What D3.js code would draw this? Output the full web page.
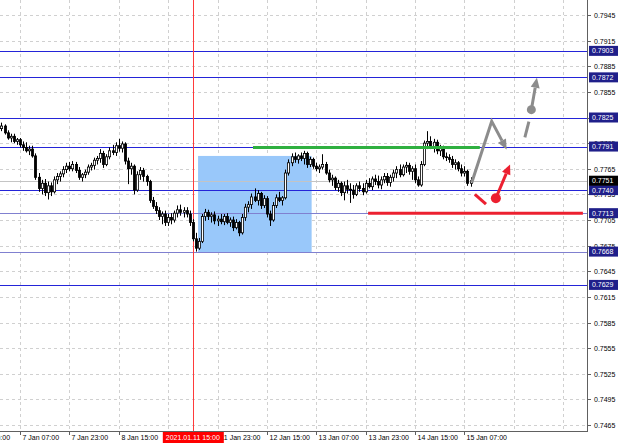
<!DOCTYPE html>
<html><head><meta charset="utf-8">
<script src="https://cdn.jsdelivr.net/npm/d3@7"></script>
<style>body{margin:0;background:#fff}svg{display:block}text{font-family:"Liberation Sans",Arial,sans-serif;font-size:7px}</style>
</head><body><svg id="c" width="620" height="448"></svg>
<script>
// EURUSD-like H1 bars, prices in pips (x 0.0001): [open, high, low, close]
const bars = [
[7808,7814,7804,7812],[7812,7819,7809,7815],[7815,7817,7805,7807],[7807,7810,7799,7801],[7801,7806,7796,7803],
[7803,7806,7795,7797],[7797,7801,7793,7799],[7799,7801,7790,7793],[7793,7797,7786,7790],[7790,7796,7784,7786],
[7786,7792,7781,7788],[7788,7792,7778,7780],[7780,7783,7752,7755],[7755,7760,7738,7742],[7742,7752,7735,7748],
[7748,7753,7733,7737],[7737,7750,7729,7745],[7745,7749,7733,7738],[7738,7756,7736,7752],[7752,7760,7747,7756],
[7756,7762,7750,7759],[7759,7768,7755,7764],[7764,7772,7760,7768],[7768,7773,7762,7765],[7765,7774,7762,7770],
[7770,7773,7760,7763],[7763,7767,7752,7755],[7755,7760,7750,7758],[7758,7764,7754,7761],[7761,7770,7758,7767],
[7767,7772,7763,7769],[7769,7778,7764,7775],[7775,7780,7770,7777],[7777,7788,7772,7783],[7783,7786,7766,7770],
[7770,7782,7768,7779],[7779,7790,7776,7786],[7786,7793,7781,7784],[7784,7796,7780,7792],[7792,7800,7785,7789],
[7789,7797,7784,7794],[7794,7796,7770,7774],[7774,7778,7747,7765],[7765,7772,7758,7768],[7768,7770,7735,7740],
[7740,7762,7738,7758],[7758,7767,7752,7763],[7763,7766,7750,7756],[7756,7758,7745,7750],[7750,7752,7725,7728],
[7728,7732,7718,7721],[7721,7726,7712,7716],[7716,7720,7705,7709],[7709,7715,7700,7712],[7712,7716,7698,7702],
[7702,7712,7698,7708],[7708,7713,7700,7705],[7705,7716,7702,7713],[7713,7722,7708,7717],[7717,7723,7710,7714],
[7714,7720,7708,7716],[7716,7720,7708,7712],[7712,7716,7698,7702],[7702,7706,7680,7683],[7683,7690,7668,7672],
[7672,7684,7670,7680],[7680,7712,7678,7709],[7709,7718,7704,7714],[7714,7717,7705,7709],[7709,7714,7702,7711],
[7711,7715,7700,7704],[7704,7710,7698,7706],[7706,7712,7700,7703],[7703,7712,7699,7709],[7709,7713,7700,7702],
[7702,7708,7697,7705],[7705,7709,7692,7696],[7696,7706,7694,7702],[7702,7704,7686,7690],[7690,7712,7688,7708],
[7708,7724,7704,7720],[7720,7727,7714,7723],[7723,7736,7718,7732],[7732,7742,7726,7728],[7728,7740,7722,7736],
[7736,7738,7718,7722],[7722,7734,7719,7730],[7730,7733,7708,7712],[7712,7716,7698,7705],[7705,7726,7703,7722],
[7722,7735,7719,7731],[7731,7738,7726,7728],[7728,7733,7722,7731],[7731,7764,7729,7760],[7760,7776,7757,7772],
[7772,7783,7768,7779],[7779,7784,7772,7776],[7776,7782,7771,7780],[7780,7784,7774,7777],[7777,7786,7770,7783],
[7783,7785,7766,7770],[7770,7779,7767,7776],[7776,7778,7765,7768],[7768,7772,7762,7765],[7765,7770,7760,7767],
[7767,7782,7764,7770],[7770,7773,7758,7760],[7760,7764,7749,7752],[7752,7758,7745,7754],[7754,7756,7740,7743],
[7743,7752,7738,7748],[7748,7750,7733,7737],[7737,7750,7728,7745],[7745,7752,7736,7741],[7741,7748,7725,7740],
[7740,7746,7730,7735],[7735,7748,7733,7745],[7745,7750,7738,7742],[7742,7748,7734,7738],[7738,7752,7736,7748],
[7748,7754,7742,7744],[7744,7756,7740,7753],[7753,7758,7746,7750],[7750,7757,7742,7746],[7746,7756,7741,7752],
[7752,7760,7748,7756],[7756,7760,7745,7749],[7749,7758,7744,7755],[7755,7764,7750,7760],[7760,7768,7754,7764],
[7764,7770,7755,7758],[7758,7770,7756,7767],[7767,7773,7760,7769],[7769,7772,7758,7762],[7762,7768,7752,7765],
[7765,7770,7748,7752],[7752,7756,7744,7746],[7746,7774,7744,7770],[7770,7798,7768,7795],[7795,7809,7788,7797],
[7797,7803,7788,7791],[7791,7800,7784,7796],[7796,7799,7782,7786],[7786,7793,7780,7790],[7790,7792,7776,7779],
[7779,7784,7774,7778],[7778,7782,7772,7776],[7776,7780,7766,7770],[7770,7776,7764,7772],[7772,7774,7762,7765],
[7765,7770,7756,7760],[7760,7768,7756,7762],[7762,7764,7745,7748],[7748,7755,7744,7751]
];
// time axis labels at bar index (7 Jan 00:00 = bar 0; weekend skipped)
const timeTicks = [
{bar:-9,label:"6 Jan 15:00"},{bar:7,label:"7 Jan 07:00"},{bar:23,label:"7 Jan 23:00"},{bar:39,label:"8 Jan 15:00"},
{bar:55,label:"11 Jan 07:00"},{bar:71,label:"11 Jan 23:00"},{bar:87,label:"12 Jan 15:00"},{bar:103,label:"13 Jan 07:00"},
{bar:119,label:"13 Jan 23:00"},{bar:135,label:"14 Jan 15:00"},{bar:151,label:"15 Jan 07:00"}
];
const futureGrid = [167,183];
const priceTicks = d3.range(0,17).map(i=>+(0.7465+i*0.003).toFixed(4));
const levels = [0.7903,0.7872,0.7825,0.7791,0.7740,0.7713,0.7668,0.7629];
const levelTone = ["dark","dark","dark","dark","dark","light","light","dark"];
const bidPrice = 0.7751;
const crossBar = 63, crossLabel = "2021.01.11 15:00";
const zoneRect = {b0:64.7,b1:101.5,p0:0.7780,p1:0.76675};
const greenLine = {b0:82.5,b1:156,p:0.7790};
const redLine = {b0:119.8,b1:189.4,p:0.7713};
const grayPath1 = [[153.4,0.77488],[159.85,0.78206],[164.7,0.77876]];
const graySeg2 = [[170.6,0.78016],[171.9,0.78202]];
const grayDot = [172.7,0.78342], grayTip = [174.5,0.78715];
const redSeg = [[154.4,0.77351],[158.0,0.77235]];
const redDot = [161.2,0.77305], redTip = [165.8,0.77701];

const svg = d3.select("#c");
const W=587, H=431;
const x = d3.scaleLinear().domain([0,153]).range([-1.6,-1.6+153*3.086]);
const y = d3.scaleLinear().domain([0.7465,0.7945]).range([425,15]);
svg.append("clipPath").attr("id","pc").append("rect").attr("x",0).attr("y",0).attr("width",W).attr("height",H);
const plot = svg.append("g").attr("clip-path","url(#pc)");
const py = v=>Math.round(y(v))+0.5;

// grid
plot.selectAll(".hg").data(priceTicks).enter().append("line")
 .attr("x1",0).attr("x2",W).attr("y1",py).attr("y2",py)
 .attr("stroke","#d0d0d0").attr("stroke-dasharray","3,3");
plot.selectAll(".vg").data(timeTicks.map(d=>d.bar).concat(futureGrid)).enter().append("line")
 .attr("y1",0).attr("y2",H).attr("x1",d=>Math.round(x(d))+0.5).attr("x2",d=>Math.round(x(d))+0.5)
 .attr("stroke","#d0d0d0").attr("stroke-dasharray","3,3");

// zone rectangle
plot.append("rect").attr("x",x(zoneRect.b0)).attr("width",x(zoneRect.b1)-x(zoneRect.b0))
 .attr("y",y(zoneRect.p0)).attr("height",y(zoneRect.p1)-y(zoneRect.p0)).attr("fill","#99c8fa");

// level lines
plot.selectAll(".lv").data(levels).enter().append("line")
 .attr("x1",0).attr("x2",W).attr("y1",py).attr("y2",py)
 .attr("stroke",(d,i)=>levelTone[i]==="dark"?"#2424d8":"#8080d0").attr("stroke-width",1);
// bid line
plot.append("line").attr("x1",0).attr("x2",W).attr("y1",py(bidPrice)).attr("y2",py(bidPrice)).attr("stroke","#c4c4c4");
// crosshair
plot.append("line").attr("x1",Math.round(x(crossBar))+0.5).attr("x2",Math.round(x(crossBar))+0.5).attr("y1",0).attr("y2",H).attr("stroke","#ff3b3b");

// candles
const P = v=>v/10000;
const cg = plot.append("g");
bars.forEach((b,i)=>{
  const cx = Math.round(x(i))+0.5;
  cg.append("line").attr("x1",cx).attr("x2",cx).attr("y1",y(P(b[1]))).attr("y2",y(P(b[2]))).attr("stroke","#000");
  const top = y(P(Math.max(b[0],b[3]))), bot = y(P(Math.min(b[0],b[3])));
  const bull = b[3]>=b[0];
  cg.append("rect").attr("x",cx-1.1).attr("width",2.2).attr("y",top).attr("height",Math.max(0.8,bot-top))
    .attr("fill",bull?"#fff":"#000").attr("stroke","#000").attr("stroke-width",0.8);
});

// green & red horizontal lines
plot.append("line").attr("x1",x(greenLine.b0)).attr("x2",x(greenLine.b1)).attr("y1",y(greenLine.p)).attr("y2",y(greenLine.p)).attr("stroke","#2fb040").attr("stroke-width",3);
plot.append("line").attr("x1",x(redLine.b0)).attr("x2",x(redLine.b1)).attr("y1",y(redLine.p)).attr("y2",y(redLine.p)).attr("stroke","#ec2030").attr("stroke-width",3);

// arrows
const line = d3.line().x(d=>x(d[0])).y(d=>y(d[1]));
function arrowHead(from,to,color){
  const x1=x(from[0]),y1=y(from[1]),x2=x(to[0]),y2=y(to[1]);
  const a=Math.atan2(y2-y1,x2-x1), L=10, Wd=4.5;
  const bx=x2-L*Math.cos(a), by=y2-L*Math.sin(a);
  const pts=[[x2,y2],[bx+Wd*Math.sin(a),by-Wd*Math.cos(a)],[bx-Wd*Math.sin(a),by+Wd*Math.cos(a)]];
  plot.append("path").attr("d","M"+pts.join("L")+"Z").attr("fill",color);
  return [bx,by];
}
function arrowLine(pts,color){
  const last=pts[pts.length-1], prev=pts[pts.length-2];
  const [bx,by]=arrowHead(prev,last,color);
  const coords=pts.slice(0,-1).map(d=>[x(d[0]),y(d[1])]).concat([[bx,by]]);
  plot.append("path").attr("d","M"+coords.join("L")).attr("fill","none").attr("stroke",color).attr("stroke-width",3).attr("stroke-linejoin","miter");
}
const gray="#8c8c8c", red="#ec2030";
arrowLine(grayPath1,gray);
plot.append("path").attr("d",line(graySeg2)).attr("stroke",gray).attr("stroke-width",3).attr("fill","none");
plot.append("circle").attr("cx",x(grayDot[0])).attr("cy",y(grayDot[1])).attr("r",4.5).attr("fill",gray);
arrowLine([grayDot,grayTip],gray);
plot.append("path").attr("d",line(redSeg)).attr("stroke",red).attr("stroke-width",3).attr("fill","none");
plot.append("circle").attr("cx",x(redDot[0])).attr("cy",y(redDot[1])).attr("r",5).attr("fill",red);
arrowLine([redDot,redTip],red);

// axes lines
svg.append("line").attr("x1",W+0.5).attr("x2",W+0.5).attr("y1",0).attr("y2",H+1).attr("stroke","#606060");
svg.append("line").attr("x1",0).attr("x2",W+1).attr("y1",H+0.5).attr("y2",H+0.5).attr("stroke","#606060");

// price ticks
const pt = svg.append("g");
priceTicks.forEach(p=>{
  const yy=py(p);
  pt.append("line").attr("x1",W).attr("x2",W+4).attr("y1",yy).attr("y2",yy).attr("stroke","#606060");
  pt.append("text").attr("x",W+7).attr("y",yy).attr("dy","0.35em").attr("fill","#000").text(p.toFixed(4));
});
// time ticks
timeTicks.forEach(t=>{
  const xx=Math.round(x(t.bar))+0.5;
  svg.append("line").attr("x1",xx).attr("x2",xx).attr("y1",H).attr("y2",H+4).attr("stroke","#606060");
  svg.append("text").attr("x",xx+2).attr("y",440).attr("fill","#000").text(t.label);
});
// level labels
levels.forEach(v=>{
  const yy=y(v);
  svg.append("rect").attr("x",589).attr("y",yy-5).attr("width",29).attr("height",10).attr("fill","#1f1f8a");
  svg.append("text").attr("x",592).attr("y",yy).attr("dy","0.35em").attr("fill","#fff").text(v.toFixed(4));
});
// bid label
svg.append("rect").attr("x",589).attr("y",y(bidPrice)-5).attr("width",29).attr("height",10).attr("fill","#000");
svg.append("text").attr("x",592).attr("y",y(bidPrice)).attr("dy","0.35em").attr("fill","#fff").text(bidPrice.toFixed(4));
// crosshair time label
const cx0=x(crossBar);
svg.append("rect").attr("x",cx0-30).attr("y",432).attr("width",61).attr("height",11).attr("fill","#ff0000");
svg.append("text").attr("x",cx0).attr("y",440).attr("text-anchor","middle").attr("fill","#fff").text(crossLabel);
</script></body></html>
